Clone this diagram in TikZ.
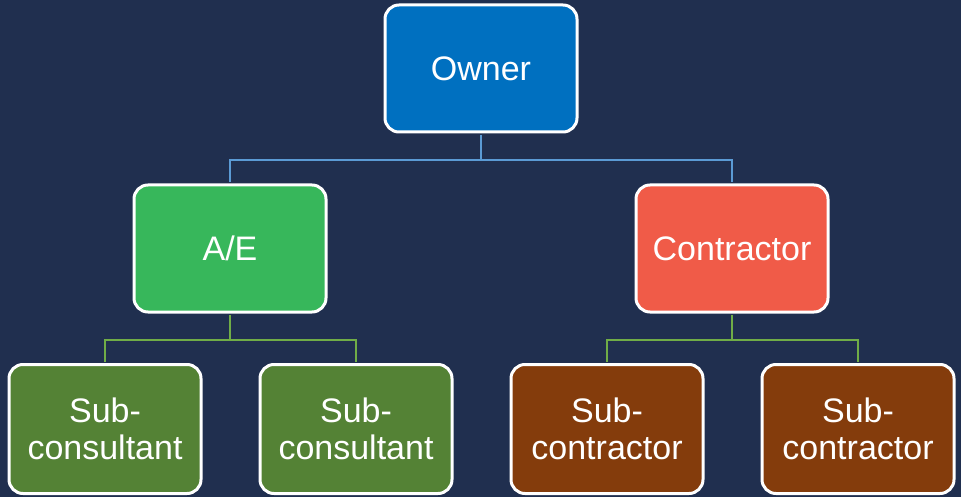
\documentclass[tikz,border=0pt]{standalone}
\usepackage{fontspec}
\setmainfont{Liberation Sans}
\usepackage{tikz}
\usetikzlibrary{calc}

\definecolor{bgnavy}{RGB}{32,47,79}
\definecolor{ownerblue}{RGB}{0,112,192}
\definecolor{aegreen}{RGB}{55,183,91}
\definecolor{contrred}{RGB}{240,91,72}
\definecolor{subgreen}{RGB}{84,130,53}
\definecolor{subbrown}{RGB}{132,60,12}
\definecolor{lineblue}{RGB}{91,155,213}
\definecolor{linegreen}{RGB}{112,173,71}

\tikzset{
  orgbox/.style={draw=white, line width=3pt, rounded corners=14pt, text=white,
    minimum width=192pt, minimum height=127pt, align=center,
    font=\fontsize{34}{37}\selectfont},
  subbox/.style={orgbox, minimum height=129pt},
  link/.style={line width=2.5pt, shorten <=1.5pt, shorten >=1.5pt}
}

\begin{document}
\begin{tikzpicture}[x=1pt,y=-1pt]
\fill[bgnavy] (0,0) rectangle (961,497);

\node[orgbox, fill=ownerblue] (owner) at (481,68.5) {Owner};
\node[orgbox, fill=aegreen] (ae) at (230,248.5) {A/E};
\node[orgbox, fill=contrred] (contr) at (732,248.5) {Contractor};

\foreach \x/\n in {105/sc1,356/sc2}
    \node[subbox, fill=subgreen] (\n) at (\x,429) {Sub-\\consultant};
\foreach \x/\n in {607/sk1,858/sk2}
    \node[subbox, fill=subbrown] (\n) at (\x,429) {Sub-\\contractor};

% links
\draw[link, lineblue] (owner.south) -- ++(0,26.5) -| (ae.north);
\draw[link, lineblue] (owner.south) -- ++(0,26.5) -| (contr.north);
\foreach \p/\c in {ae/sc1,ae/sc2,contr/sk1,contr/sk2}
    \draw[link, linegreen] (\p.south) -- ++(0,26.5) -| (\c.north);

\end{tikzpicture}
\end{document}
